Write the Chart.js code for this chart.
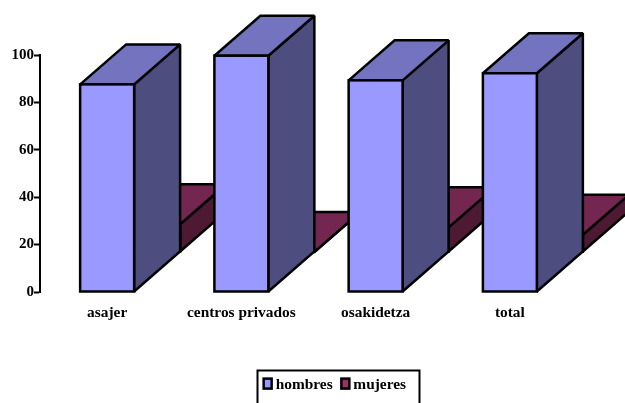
<!DOCTYPE html>
<html>
<head>
<meta charset="utf-8">
<style>
  html, body { margin: 0; padding: 0; background: #fff; overflow: hidden; }
  #wrap { width: 625px; height: 403px; }
</style>
<script src="https://cdn.jsdelivr.net/npm/chart.js@4/dist/chart.umd.js"></script>
</head>
<body>
<div id="wrap"><canvas id="chart"></canvas></div>
<script>
const categories = ['asajer', 'centros privados', 'osakidetza', 'total'];
const hombres = [87.6, 99.7, 89.3, 92.3];
const mujeres = [11.7, 0, 10.4, 7.3];
const yTicks = [0, 20, 40, 60, 80, 100];

const FONT = { family: '"Liberation Serif", serif', size: 15.4, weight: 'bold' };
const DEPTH_X = 46;
const DEPTH_Y = -40;
const LINE = 2.5;
const LEGEND_SHIFT = 24.5;
const LEGEND_PADDING = 13;

// front colour, top colour, side colour
const palette = [
    ['#9999ff', '#7373bf', '#4d4d80'],
    ['#993366', '#732650', '#4d1933']
];

function face(ctx, points, fill) {
    ctx.beginPath();
    points.forEach((p, i) => i ? ctx.lineTo(p[0], p[1]) : ctx.moveTo(p[0], p[1]));
    ctx.closePath();
    ctx.fillStyle = fill;
    ctx.fill();
    ctx.stroke();
}

function barBox(bar) {
    const { x, y, base, width } = bar.getProps(['x', 'y', 'base', 'width'], true);
    return { l: x - width / 2, r: x + width / 2, top: y, bottom: base };
}

// side and top of each bar, the second series sits one row further back
const depthBars = {
    id: 'depthBars',
    beforeDatasetDraw(chart, args) {
        const ctx = chart.ctx;
        ctx.save();
        ctx.translate(DEPTH_X * args.index, DEPTH_Y * args.index);
        ctx.strokeStyle = '#000';
        ctx.lineWidth = LINE;
        ctx.miterLimit = 2;
        args.meta.data.forEach((bar) => {
            const { l, r, top, bottom } = barBox(bar);
            face(ctx, [[r, bottom], [r + DEPTH_X, bottom + DEPTH_Y], [r + DEPTH_X, top + DEPTH_Y], [r, top]], palette[args.index][2]);
            face(ctx, [[l, top], [r, top], [r + DEPTH_X, top + DEPTH_Y], [l + DEPTH_X, top + DEPTH_Y]], palette[args.index][1]);
        });
    },
    afterDatasetDraw(chart, args) {
        const ctx = chart.ctx;
        // outline of the front face, centred on the bar's edge
        args.meta.data.forEach((bar) => {
            const { l, r, top, bottom } = barBox(bar);
            ctx.strokeRect(l, top, r - l, bottom - top);
        });
        ctx.restore();
    }
};

// legend sits off centre in a frame that runs past the bottom of the page
const legendFrame = {
    id: 'legendFrame',
    beforeDraw(chart) {
        chart.legend.left = LEGEND_SHIFT;
        chart.legend.right = chart.width + LEGEND_SHIFT;
    },
    afterDraw(chart) {
        const ctx = chart.ctx;
        const legend = chart.legend;
        ctx.save();
        ctx.strokeStyle = '#000';
        ctx.lineWidth = 2;
        ctx.strokeRect(257.5, 370.5, 162, 50);
        // swatches drawn here as the built-in ones leave too wide a gap to the text
        ctx.lineWidth = LINE;
        let x = (legend.left + LEGEND_PADDING + legend.right - legend.lineWidths[0]) / 2;
        legend.legendItems.forEach((item, i) => {
            const hit = legend.legendHitBoxes[i];
            ctx.fillStyle = item.fillStyle;
            ctx.fillRect(x + FONT.size / 2 - 12, hit.top + 1, 8, 10);
            ctx.strokeRect(x + FONT.size / 2 - 12, hit.top + 1, 8, 10);
            x += hit.width + LEGEND_PADDING;
        });
        ctx.restore();
    }
};

new Chart(document.getElementById('chart').getContext('2d'), {
    type: 'bar',
    data: {
        labels: categories,
        datasets: [
            { label: 'hombres', data: hombres, backgroundColor: palette[0][0] },
            { label: 'mujeres', data: mujeres, backgroundColor: palette[1][0] }
        ]
    },
    plugins: [depthBars, legendFrame],
    options: {
        responsive: true,
        maintainAspectRatio: false,
        animation: false,
        layout: { padding: { top: 55, right: 48, left: 0, bottom: 0 } },
        datasets: {
            bar: {
                grouped: false,
                clip: false,
                borderWidth: 0,
                categoryPercentage: 1,
                barPercentage: 0.402
            }
        },
        scales: {
            x: {
                grid: { display: false },
                border: { display: false },
                ticks: { color: '#000', font: FONT, padding: 4, maxRotation: 0, autoSkip: false },
                afterFit(scale) {
                    scale.height = 111 - scale.chart.legend.height;
                }
            },
            y: {
                min: 0,
                max: 100,
                afterBuildTicks(scale) {
                    scale.ticks = yTicks.map((value) => ({ value }));
                },
                grid: { drawOnChartArea: false, drawTicks: true, tickLength: 6, tickWidth: 2, tickColor: '#000' },
                border: { display: true, color: '#000', width: 2 },
                ticks: { color: '#000', font: { ...FONT, size: 15 }, padding: 0 },
                afterFit(scale) {
                    scale.width = 40;
                }
            }
        },
        plugins: {
            tooltip: { enabled: false },
            legend: {
                position: 'bottom',
                labels: { color: '#000', font: FONT, boxWidth: 0, padding: LEGEND_PADDING }
            }
        }
    }
});
</script>
</body>
</html>
